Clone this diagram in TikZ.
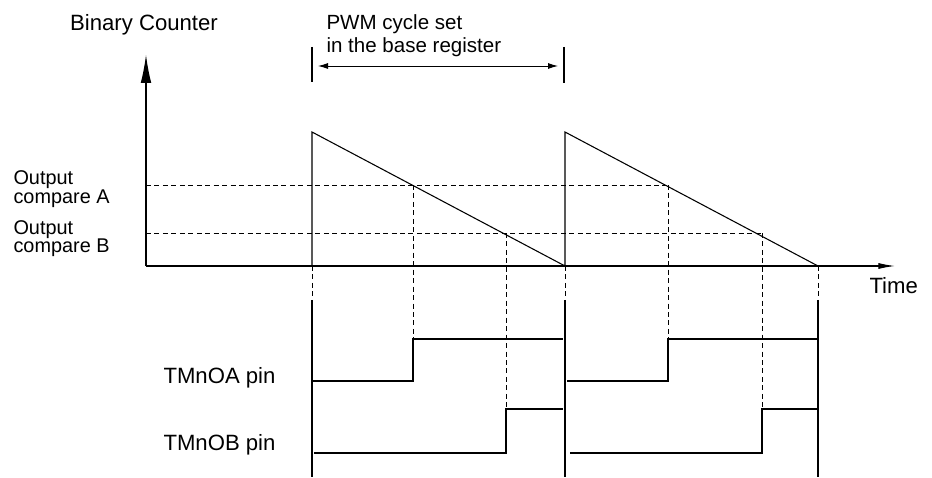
\documentclass[tikz,border=0pt]{standalone}
\usepackage{fontspec}
\setmainfont{Liberation Sans}
\usetikzlibrary{arrows.meta}
\begin{document}
\begin{tikzpicture}[x=0.75pt,y=-0.75pt, line width=0.8pt,
  dsh/.style={dash pattern=on 3.75pt off 2.6pt, line width=0.7pt},
  lbl/.style={inner sep=0pt, anchor=base west, font=\fontsize{16.6}{19}\selectfont},
  sml/.style={inner sep=0pt, anchor=base west, font=\fontsize{14.9}{18}\selectfont},
  pwm/.style={inner sep=0pt, anchor=base west, font=\fontsize{15.4}{18}\selectfont},
  bigtip/.style={-{Latex[length=21pt,width=8pt]}},
  timetip/.style={-{Latex[length=12.5pt,width=4.5pt]}},
  smtip/.style={{Latex[length=7.5pt,width=4.5pt]}-{Latex[length=7.5pt,width=4.5pt]}}]
\useasboundingbox (0,0) rectangle (932,478);

% axes
\coordinate (O) at (146,266);
\coordinate (Ytip) at (146,55);
\coordinate (Xtip) at (895,266);
\draw[bigtip] (O) -- (Ytip);
\draw[timetip] (O) -- (Xtip);

% sawtooth
\coordinate (r1b) at (312,266);
\coordinate (r1t) at (312,132);
\coordinate (r1e) at (565,266);
\coordinate (r2t) at (565,132);
\coordinate (r2e) at (818,266);
\draw (r1b) -- (r1t) -- (r1e) -- (r2t) -- (r2e);

% compare levels
\coordinate (ha0) at (146,185);
\coordinate (hb0) at (146,233);
\coordinate (a1) at (413,185);
\coordinate (b1) at (506,233);
\coordinate (a2) at (668,185);
\coordinate (b2) at (762,233);
\draw[dsh] (ha0) -- (a2);
\draw[dsh] (hb0) -- (b2);

% period boundaries
\coordinate (p1d) at (312,300);
\coordinate (p2d) at (565,300);
\coordinate (p3d) at (818,300);
\coordinate (p1e) at (312,477);
\coordinate (p2e) at (565,477);
\coordinate (p3e) at (818,477);
\draw[dsh] (r1b) -- (p1d);
\draw[dsh] (r1e) -- (p2d);
\draw[dsh] (r2e) -- (p3d);
\draw (p1d) -- (p1e);
\draw (p2d) -- (p2e);
\draw (p3d) -- (p3e);

% PWM cycle marker
\coordinate (m1a) at (312,47);
\coordinate (m1b) at (312,82);
\coordinate (m2a) at (564,47);
\coordinate (m2b) at (564,83);
\draw (m1a) -- (m1b);
\draw (m2a) -- (m2b);
\coordinate (pa) at (318,66);
\coordinate (pb) at (558,66);
\draw[smtip, line width=0.7pt] (pa) -- (pb);

% compare-match dashed drops
\coordinate (A1r) at (413,339);
\coordinate (A2r) at (668,339);
\coordinate (B1r) at (506,409);
\coordinate (B2r) at (762,409);
\draw[dsh] (a1) -- (A1r);
\draw[dsh] (a2) -- (A2r);
\draw[dsh] (b1) -- (B1r);
\draw[dsh] (b2) -- (B2r);

% output waveforms
\draw (312,381) -- (413,381) -- (A1r) -- (563,339);
\draw (567,381) -- (668,381) -- (A2r) -- (818,339);
\draw (314,453) -- (506,453) -- (B1r) -- (563,409);
\draw (570,453) -- (762,453) -- (B2r) -- (818,409);

% labels
\node[lbl, anchor=base] (bc) at (144,31) {Binary Counter};
\node[pwm] (pw1) at (326,30) {PWM cycle set};
\node[pwm] (pw2) at (326,53) {in the base register};
\node[sml] (oa1) at (13,184) {Output};
\node[sml] (oa2) at (13,203) {compare A};
\node[sml] (ob1) at (13,234) {Output};
\node[sml] (ob2) at (13,252) {compare B};
\node[lbl] (ta) at (163,383) {TMnOA pin};
\node[lbl] (tb) at (163,450) {TMnOB pin};
\node[lbl] (tm) at (869,293) {Time};
\end{tikzpicture}
\end{document}
